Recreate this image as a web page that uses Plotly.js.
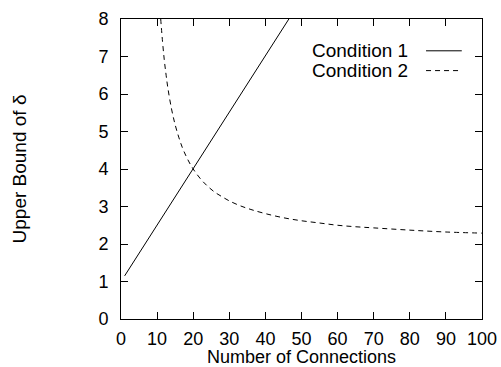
<!DOCTYPE html>
<html><head><meta charset="utf-8">
<script src="https://cdn.plot.ly/plotly-3.0.1.min.js"></script>
<style>body{margin:0;background:#fff}#c{width:501px;height:367px}</style>
</head><body><div id="c"></div>
<script>
const seriesNames = ["Condition 1", "Condition 2"];
const cond1X = [1, 20, 46.5];
const cond1Y = [1.15, 4.0, 8.0];
const cond2X = [11, 11.5, 12, 12.5, 13, 14, 15, 16, 17, 18, 19, 20, 22, 24, 26, 28, 30, 33, 36, 40, 45, 50, 55, 60, 65, 70, 80, 90, 100];
const cond2Y = [8.0, 7.4, 6.9, 6.5, 6.15, 5.6, 5.18, 4.85, 4.57, 4.35, 4.16, 4.0, 3.74, 3.54, 3.38, 3.26, 3.15, 3.02, 2.92, 2.81, 2.70, 2.62, 2.56, 2.50, 2.46, 2.43, 2.37, 2.32, 2.29];
const xTicks = [0,10,20,30,40,50,60,70,80,90,100];
const yTicks = [0,1,2,3,4,5,6,7,8];

const tickFont = {family: 'Liberation Sans, Arial, sans-serif', size: 18, color: '#000'};
const textFont = {family: 'Liberation Sans, Arial, sans-serif', size: 19, color: '#000'};
const xTitleFont = {family: 'Liberation Sans, Arial, sans-serif', size: 18, color: '#000'};
const dash2 = '5px,4px';
const traces = [
  {x: cond1X, y: cond1Y, mode: 'lines', name: seriesNames[0], line: {color: '#000', width: 1}},
  {x: cond2X, y: cond2Y, mode: 'lines', name: seriesNames[1], line: {color: '#000', width: 1, dash: dash2, shape: 'spline'}}
];
const axisCommon = {showline: true, linecolor: '#000', linewidth: 1, mirror: 'allticks', ticks: 'inside', ticklen: 7, tickcolor: '#000', showgrid: false, zeroline: false, tickfont: tickFont};
const layout = {
  width: 501, height: 367,
  margin: {l: 121, r: 19, t: 19, b: 48},
  paper_bgcolor: '#fff', plot_bgcolor: '#fff',
  font: textFont,
  showlegend: false,
  xaxis: Object.assign({}, axisCommon, {range: [0, 100], tickvals: xTicks, ticktext: xTicks.map(String), ticklabelstandoff: 3,
    title: {text: 'Number of Connections', font: xTitleFont, standoff: 4}}),
  yaxis: Object.assign({}, axisCommon, {range: [0, 8], tickvals: yTicks, ticktext: yTicks.map(String), ticklabelstandoff: 8,
    title: {text: 'Upper Bound of δ', font: textFont, standoff: 66}}),
  annotations: [
    {xref: 'paper', yref: 'paper', x: 0.8006, y: 0.894, xanchor: 'right', yanchor: 'middle', text: seriesNames[0], showarrow: false, font: textFont},
    {xref: 'paper', yref: 'paper', x: 0.8006, y: 0.828, xanchor: 'right', yanchor: 'middle', text: seriesNames[1], showarrow: false, font: textFont}
  ],
  shapes: [
    {type: 'line', xref: 'paper', yref: 'paper', x0: 0.845, x1: 0.944, y0: 0.894, y1: 0.894, line: {color: '#000', width: 1}},
    {type: 'line', xref: 'paper', yref: 'paper', x0: 0.845, x1: 0.944, y0: 0.828, y1: 0.828, line: {color: '#000', width: 1, dash: dash2}}
  ]
};
Plotly.newPlot('c', traces, layout, {staticPlot: true});
</script></body></html>
